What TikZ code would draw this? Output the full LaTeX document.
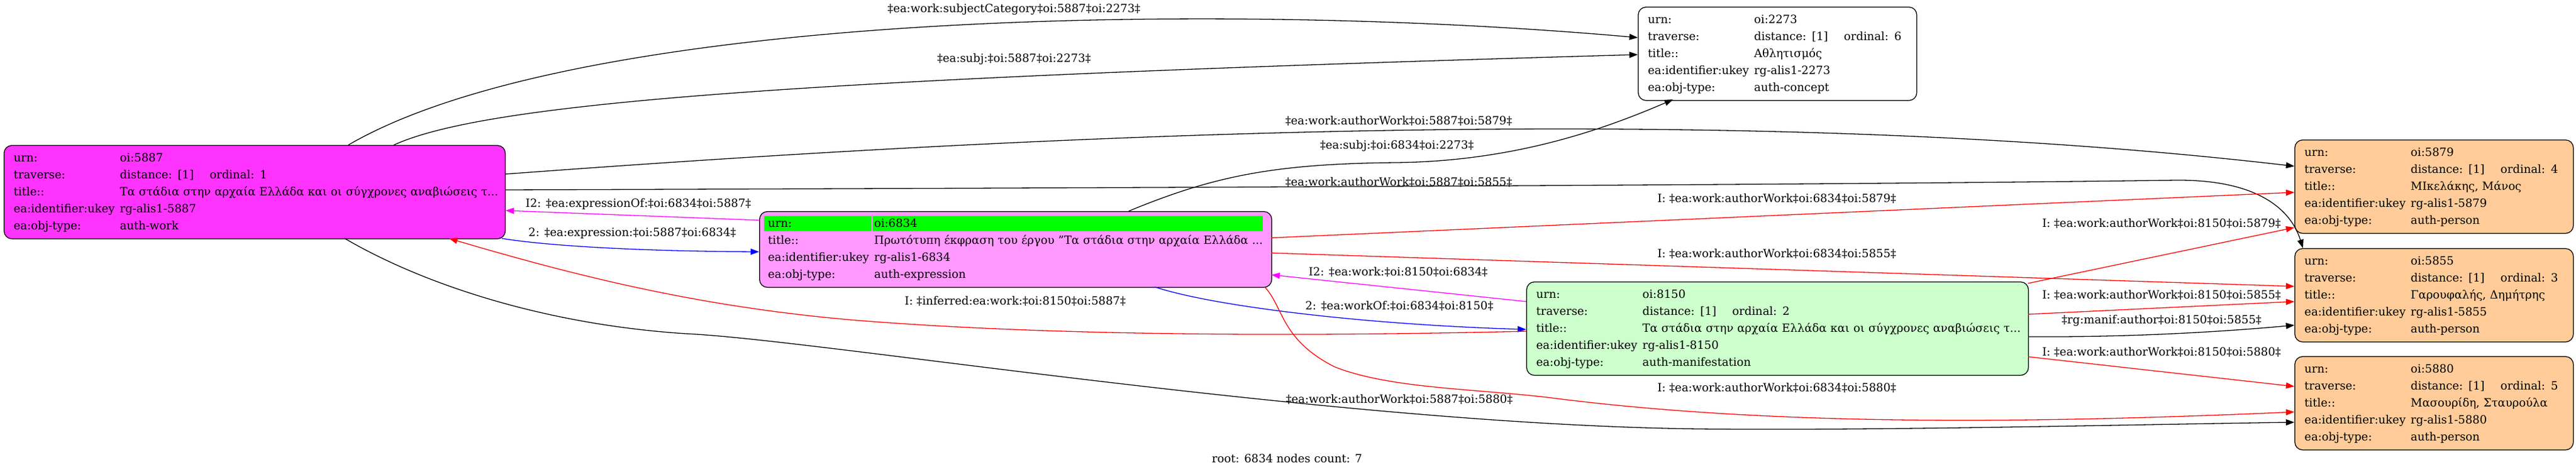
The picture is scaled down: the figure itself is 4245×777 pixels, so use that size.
\documentclass[tikz,border=0pt]{standalone}
\usepackage{fontspec}
\setmainfont{DejaVu Serif}
\usetikzlibrary{arrows.meta}
\definecolor{workmag}{HTML}{FF33FF}
\definecolor{exprpink}{HTML}{FF99FF}
\definecolor{hdgreen}{HTML}{00FF00}
\definecolor{manifgreen}{HTML}{CCFFCC}
\definecolor{personpeach}{HTML}{FFCC99}
\definecolor{lnred}{HTML}{FF0000}
\definecolor{lnblue}{HTML}{0000FF}
\definecolor{lnmag}{HTML}{FF00FF}
\setlength{\fboxsep}{0pt}
% one row of a record: key column, then value
\newcommand{\kv}[2]{\strut\makebox[175pt][l]{#1}\mbox{#2}}
\newcommand{\trv}[1]{\makebox[148pt][l]{distance: [1]}ordinal: #1}

\begin{document}
\begin{tikzpicture}[x=1pt, y=-1pt,
  >={Triangle[length=14pt,width=10pt]},
  every node/.style={font=\fontsize{18.67}{28}\selectfont},
  box/.style={draw, line width=1.3pt, rounded corners=13pt, anchor=north west, align=left, inner xsep=16pt, inner ysep=0pt, minimum height=154pt},
  work/.style={box, fill=workmag, text width=794pt},
  expr/.style={box, fill=exprpink, inner xsep=14pt, text width=816pt, minimum height=125pt},
  manif/.style={box, fill=manifgreen, text width=795pt},
  concept/.style={box, fill=white, text width=427pt},
  person/.style={box, fill=personpeach, text width=427pt},
  link/.style={->, line width=1.3pt},
  lbl/.style={inner sep=0pt}
]
\useasboundingbox (0,0) rectangle (4245,777);

% Records
\node[work] (work) at (6,239) {\kv{urn:}{oi:5887}\\ \kv{traverse:}{\trv{1}}\\ \kv{title::}{Τα στάδια στην αρχαία Ελλάδα και οι σύγχρονες αναβιώσεις τ...}\\ \kv{ea:identifier:ukey}{rg-alis1-5887}\\ \kv{ea:obj-type:}{auth-work}};
\node[expr] (expr) at (1251,348) {\strut\hspace*{-7pt}\colorbox{hdgreen}{\makebox[177pt][l]{\rule[-6.4pt]{0pt}{25pt}\hspace*{7pt}urn:}}\hspace*{2pt}\colorbox{hdgreen}{\makebox[643pt][l]{\rule[-6.4pt]{0pt}{25pt}\hspace*{3pt}oi:6834}}\\ \kv{title::}{Πρωτότυπη έκφραση του έργου "Τα στάδια στην αρχαία Ελλάδα ...}\\ \kv{ea:identifier:ukey}{rg-alis1-6834}\\ \kv{ea:obj-type:}{auth-expression}};
\node[manif] (manif) at (2515,464) {\kv{urn:}{oi:8150}\\ \kv{traverse:}{\trv{2}}\\ \kv{title::}{Τα στάδια στην αρχαία Ελλάδα και οι σύγχρονες αναβιώσεις τ...}\\ \kv{ea:identifier:ukey}{rg-alis1-8150}\\ \kv{ea:obj-type:}{auth-manifestation}};
\node[concept] (subj) at (2699,11) {\kv{urn:}{oi:2273}\\ \kv{traverse:}{\trv{6}}\\ \kv{title::}{Αθλητισμός}\\ \kv{ea:identifier:ukey}{rg-alis1-2273}\\ \kv{ea:obj-type:}{auth-concept}};
\node[person] (mik) at (3781,230) {\kv{urn:}{oi:5879}\\ \kv{traverse:}{\trv{4}}\\ \kv{title::}{ΜΙκελάκης, Μάνος}\\ \kv{ea:identifier:ukey}{rg-alis1-5879}\\ \kv{ea:obj-type:}{auth-person}};
\node[person] (gar) at (3781,409) {\kv{urn:}{oi:5855}\\ \kv{traverse:}{\trv{3}}\\ \kv{title::}{Γαρουφαλής, Δημήτρης}\\ \kv{ea:identifier:ukey}{rg-alis1-5855}\\ \kv{ea:obj-type:}{auth-person}};
\node[person] (mas) at (3781,587) {\kv{urn:}{oi:5880}\\ \kv{traverse:}{\trv{5}}\\ \kv{title::}{Μασουρίδη, Σταυρούλα}\\ \kv{ea:identifier:ukey}{rg-alis1-5880}\\ \kv{ea:obj-type:}{auth-person}};

% Edges out of the work
\draw[link] ([shift={(568,0)}]work.north west) .. controls (950,20) and (2000,0) .. ([shift={(0,51)}]subj.north west);
\draw[link] ([shift={(643,0)}]work.north west) .. controls (800,170) and (1300,130) .. ([shift={(0,79)}]subj.north west);
\draw[link] ([shift={(826,48)}]work.north west) .. controls (1600,230) and (2800,160) .. ([shift={(0,44)}]mik.north west);
\draw[link] ([shift={(826,74)}]work.north west) .. controls (2000,309) and (3000,305) .. (3586,297) .. controls (3720,296) and (3775,345) .. ([shift={(14,0)}]gar.north west);
\draw[link] ([shift={(562,154)}]work.north west) .. controls (700,470) and (900,535) .. (1130,550) .. controls (1350,560) and (2200,700) .. (2800,707) .. controls (3100,710) and (3500,700) .. ([shift={(0,109)}]mas.north west);
\draw[link, lnblue] ([shift={(821,154)}]work.north west) .. controls (900,405) and (1050,414) .. ([shift={(0,67)}]expr.north west);

% Edges out of the expression
\draw[link, lnmag] ([shift={(0,15)}]expr.north west) -- ([shift={(827,108)}]work.north west);
\draw[link] ([shift={(609,0)}]expr.north west) .. controls (2000,290) and (2100,270) .. (2300,268) .. controls (2500,266) and (2650,210) .. ([shift={(58,153)}]subj.north west);
\draw[link, lnblue] ([shift={(652,125)}]expr.north west) .. controls (2000,505) and (2250,535) .. ([shift={(0,79)}]manif.north west);
\draw[link, lnred] ([shift={(844,44)}]expr.north west) -- ([shift={(0,87)}]mik.north west);
\draw[link, lnred] ([shift={(844,69)}]expr.north west) -- ([shift={(0,63)}]gar.north west);
\draw[link, lnred] ([shift={(833,125)}]expr.north west) .. controls (2115,505) and (2110,560) .. (2200,605) .. controls (2290,640) and (2420,640) .. (2550,655) .. controls (2900,700) and (3300,700) .. ([shift={(0,92)}]mas.north west);

% Edges out of the manifestation
\draw[link, lnred] ([shift={(0,82)}]manif.north west) .. controls (2100,556) and (1700,552) .. (1400,527) .. controls (1150,505) and (950,455) .. ([shift={(734,154)}]work.north west);
\draw[link, lnmag] ([shift={(0,33)}]manif.north west) -- ([shift={(844,105)}]expr.north west);
\draw[link, lnred] ([shift={(827,3)}]manif.north west) -- ([shift={(0,145)}]mik.north west);
\draw[link, lnred] ([shift={(827,54)}]manif.north west) -- ([shift={(0,88)}]gar.north west);
\draw[link] ([shift={(827,91)}]manif.north west) .. controls (3500,556) and (3650,548) .. ([shift={(0,127)}]gar.north west);
\draw[link, lnred] ([shift={(827,124)}]manif.north west) -- ([shift={(0,50)}]mas.north west);

% Edge labels
\node[lbl] (lsubjcat) at (1671,15) {‡ea:work:subjectCategory‡oi:5887‡oi:2273‡};
\node[lbl] (lsubjw) at (1671,97) {‡ea:subj:‡oi:5887‡oi:2273‡};
\node[lbl] (lawmik) at (2305,199) {‡ea:work:authorWork‡oi:5887‡oi:5879‡};
\node[lbl] (lsubje) at (2302,240) {‡ea:subj:‡oi:6834‡oi:2273‡};
\node[lbl] (lawgar) at (2305,300) {‡ea:work:authorWork‡oi:5887‡oi:5855‡};
\node[lbl] (lexprof) at (1052,336) {I2: ‡ea:expressionOf:‡oi:6834‡oi:5887‡};
\node[lbl] (lemik) at (2928,327) {I: ‡ea:work:authorWork‡oi:6834‡oi:5879‡};
\node[lbl] (lexpr) at (1042,385) {2: ‡ea:expression:‡oi:5887‡oi:6834‡};
\node[lbl] (lmmik) at (3562,368) {I: ‡ea:work:authorWork‡oi:8150‡oi:5879‡};
\node[lbl] (legar) at (2928,418) {I: ‡ea:work:authorWork‡oi:6834‡oi:5855‡};
\node[lbl] (lwork) at (2304,448) {I2: ‡ea:work:‡oi:8150‡oi:6834‡};
\node[lbl] (lmgar) at (3562,486) {I: ‡ea:work:authorWork‡oi:8150‡oi:5855‡};
\node[lbl] (linf) at (1673,496) {I: ‡inferred:ea:work:‡oi:8150‡oi:5887‡};
\node[lbl] (lworkof) at (2306,504) {2: ‡ea:workOf:‡oi:6834‡oi:8150‡};
\node[lbl] (lmanif) at (3562,528) {‡rg:manif:author‡oi:8150‡oi:5855‡};
\node[lbl] (lmmas) at (3562,580) {I: ‡ea:work:authorWork‡oi:8150‡oi:5880‡};
\node[lbl] (lemas) at (2928,639) {I: ‡ea:work:authorWork‡oi:6834‡oi:5880‡};
\node[lbl] (lawmas) at (2306,658) {‡ea:work:authorWork‡oi:5887‡oi:5880‡};

% Caption
\node[lbl] (caption) at (2121,756) {root: 6834 nodes count: 7};

\end{tikzpicture}
\end{document}
